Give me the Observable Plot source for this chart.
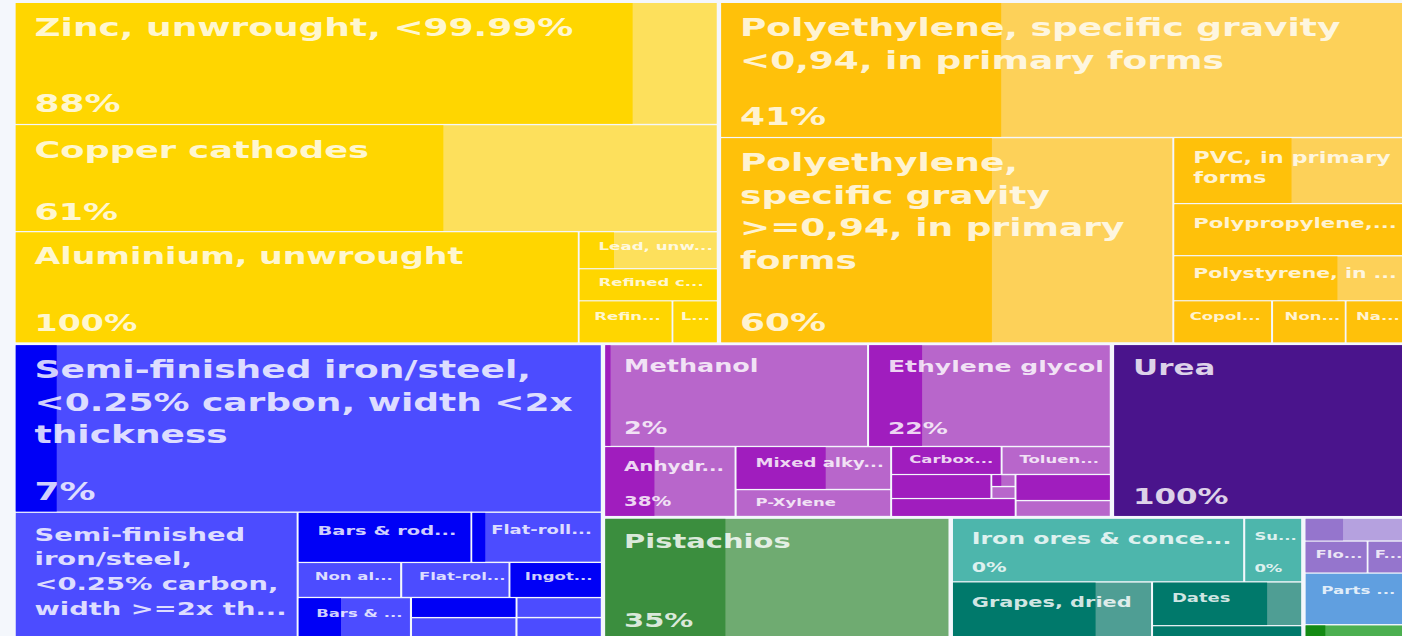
<!DOCTYPE html>
<html>
<head>
<meta charset="utf-8">
<script src="https://cdn.jsdelivr.net/npm/d3@7"></script>
<script src="https://cdn.jsdelivr.net/npm/@observablehq/plot@0.6"></script>
<style>
  html, body { margin: 0; padding: 0; background: #f4f7fc; overflow: hidden; width: 1402px; height: 636px; }
  #chart svg { display: block; transform: scaleX(1.5); transform-origin: 0 0; }
</style>
</head>
<body>
<div id="chart"></div>
<script>
// ---- DATA: [product, export value (est. US$ M), share of world exports (%)] ----
const metals = [
  ["Zinc, unwrought, <99.99%", 851.6, 88],
  ["Copper cathodes", 746.9, 61],
  ["Aluminium, unwrought", 621.6, 100],
  ["Lead, unwrought", 51.1, 25],
  ["Refined copper, unwrought", 44.2, 100],
  ["Refined lead, unwrought", 39.1, 100],
  ["Lead alloys, unwrought", 18.9, 100]
];
const plastics = [
  ["Polyethylene, specific gravity <0,94, in primary forms", 918.0, 41],
  ["Polyethylene, specific gravity >=0,94, in primary forms", 922.5, 60],
  ["PVC, in primary forms", 151.8, 51],
  ["Polypropylene, in primary forms", 119.6, 100],
  ["Polystyrene, in primary forms", 103.5, 71],
  ["Copolymers of propylene", 41.2, 100],
  ["Non-cellular polyethylene plates", 30.7, 100],
  ["Natural polymers", 24.8, 100]
];
const ironSteel = [
  ["Semi-finished iron/steel, <0.25% carbon, width <2x thickness", 977.0, 7],
  ["Semi-finished iron/steel, <0.25% carbon, width >=2x thickness", 355.3, 0],
  ["Bars & rods, iron/steel, hot-rolled", 86.5, 100],
  ["Flat-rolled iron/steel, >=600mm, hot-rolled", 65.0, 10],
  ["Non alloy steel wire", 36.1, 0],
  ["Flat-rolled iron/steel, <600mm", 37.8, 0],
  ["Ingots of iron/steel", 32.2, 100],
  ["Bars & rods, iron/steel, cold-finished", 46.3, 38],
  ["Pig iron", 21.0, 100],
  ["Angles & shapes of iron/steel", 22.1, 0],
  ["Ferro-alloys", 17.0, 0],
  ["Tubes & pipes of iron/steel", 17.9, 0]
];
const chemicals = [
  ["Methanol", 268.3, 2],
  ["Ethylene glycol", 246.8, 22],
  ["Anhydrous ammonia", 91.7, 38],
  ["Mixed alkylbenzenes", 66.7, 58],
  ["P-Xylene", 41.9, 0],
  ["Carboxylic acids", 30.8, 100],
  ["Toluene diisocyanate", 30.5, 0],
  ["Propylene", 24.0, 100],
  ["Benzene", 2.9, 40],
  ["Styrene", 2.9, 0],
  ["Acyclic hydrocarbons", 22.3, 100],
  ["Caustic soda", 24.7, 100],
  ["Sulphuric acid", 15.2, 0]
];
const fertilizers = [["Urea", 502.2, 100]];
const nuts = [["Pistachios", 417.5, 35]];
const minerals = [["Iron ores & concentrates", 186.9, 0], ["Sulphur", 37.1, 0]];
const fruits = [["Grapes, dried", 114.0, 72], ["Dates", 66.0, 77], ["Citrus fruit", 19.5, 100]];
const machinery = [["Liquid pumps", 23.5, 38], ["Floor coverings", 20.5, 100], ["Furnaces", 12.2, 100]];
const parts = [["Parts of engines", 53.0, 0]];
const vegetables = [["Saffron", 14.3, 20]];

// ---- colours per category: [share part, rest of cell] ----
const palette = {
  metals: ["#FFD600", "#FDE05C"],
  plastics: ["#FFC10A", "#FDD159"],
  ironSteel: ["#0000F6", "#4C4CFF"],
  chemicals: ["#A01DBE", "#B866CB"],
  fertilizers: ["#4A148C", "#6C3FA3"],
  nuts: ["#3B8E3E", "#6FAB71"],
  minerals: ["#26A69A", "#4DB6AC"],
  fruits: ["#00796B", "#4F9E94"],
  machinery: ["#9575CD", "#B5A1DF"],
  parts: ["#3F80D2", "#609FE0"],
  vegetables: ["#148A14", "#4CAF50"]
};
const categories = {metals, plastics, ironSteel, chemicals, fertilizers, nuts, minerals, fruits, machinery, parts, vegetables};
const catOf = new Map();
for (const [k, arr] of Object.entries(categories)) for (const r of arr) catOf.set(r, k);

// ---- tiling structure (rows = side by side, cols = stacked) ----
const row = (...kids) => ({dir: "H", gap: 1.4, kids});
const col = (...kids) => ({dir: "V", gap: 1.4, kids});
const Row = (...kids) => ({dir: "H", gap: 3, kids});
const Col = (...kids) => ({dir: "V", gap: 3, kids});
const M = metals, P = plastics, I = ironSteel, C = chemicals, F = fruits, Mn = minerals, Mc = machinery;
const layout = Col(
  Row(
    col(M[0], M[1], row(M[2], col(M[3], M[4], row(M[5], M[6])))),
    col(P[0], row(P[1], col(P[2], P[3], P[4], row(P[5], P[6], P[7]))))
  ),
  Row(
    col(I[0], row(I[1], col(row(I[2], I[3]), row(I[4], I[5], I[6]), row(I[7], col(I[8], I[9]), col(I[10], I[11]))))),
    Col(
      Row(
        col(row(C[0], C[1]),
            row(C[2], col(C[3], C[4]),
                col(row(C[5], C[6]), row(col(row(C[7], col(C[8], C[9])), C[10]), col(C[11], C[12]))))),
        fertilizers[0]
      ),
      Row(
        nuts[0],
        col(row(Mn[0], Mn[1]), row(F[0], col(F[1], F[2]))),
        col(Mc[0], row(Mc[1], Mc[2]), parts[0], vegetables[0])
      )
    )
  )
);
function toNode(s) {
  return Array.isArray(s)
    ? {name: s[0], value: s[1], share: s[2], cat: catOf.get(s)}
    : {dir: s.dir, gap: s.gap, children: s.kids.map(toNode)};
}

// ---- layout ----
const S = 1.5;               // horizontal stretch of the picture
const W = 936, H = 640, X0 = 10.5, Y0 = 3, TH = 635;
const tile = (node, x0, y0, x1, y1) =>
  (node.data.dir === "H" ? d3.treemapDice : d3.treemapSlice)(node, x0, y0, x1, y1);
const root = d3.treemap().tile(tile).size([W - X0, TH]).round(false)
  .paddingInner(n => n.data.gap)(d3.hierarchy(toNode(layout)).sum(d => d.children ? 0 : d.value));
const cells = root.leaves().map(n => ({...n.data, x0: n.x0 + X0, x1: n.x1 + X0, y0: n.y0 + Y0, y1: n.y1 + Y0}));

// ---- labels ----
const FONT = '"DejaVu Sans", Verdana, sans-serif';
const ctx = document.createElement("canvas").getContext("2d");
function tw(t, fs) { ctx.font = `bold ${fs}px ${FONT}`; return ctx.measureText(t).width; }
function ellipsize(t, fs, maxW) {
  if (tw(t, fs) <= maxW) return t;
  for (let k = t.length - 1; k >= 1; k--) {
    const s = t.slice(0, k) + "...";
    if (tw(s, fs) <= maxW) return s;
  }
  return null;
}
function wrap(name, fs, maxW) {
  const words = name.split(" ");
  const lines = [];
  let cur = "", start = 0;
  for (let i = 0; i < words.length; i++) {
    const test = cur ? cur + " " + words[i] : words[i];
    if (tw(test, fs) <= maxW) { cur = test; continue; }
    if (cur && tw(words[i], fs) <= maxW) { lines.push({text: cur, start}); cur = words[i]; start = i; continue; }
    const t = ellipsize(words.slice(start).join(" "), fs, maxW);
    if (t) lines.push({text: t, start});
    return {words, lines, cut: true};
  }
  if (cur) lines.push({text: cur, start});
  return {words, lines, cut: false};
}
const nameLines = [], shareLines = [];
for (const c of cells) {
  const w = c.x1 - c.x0, h = c.y1 - c.y0;
  if (h < 25) continue;
  const padTop = Math.max(3, Math.min(11, h * 0.2));
  const padBot = Math.max(3, Math.min(12, h * 0.15));
  const padX = Math.min(12, w * 0.15);
  const maxW = w - padX * 1.2;
  const L = Math.log(Math.sqrt(w * S * h));
  let fs = 10.5 + 7 * (L - 4.16) + 7 * Math.max(0, L - 5.2);
  fs = Math.max(11, Math.min(24, fs, (h - padTop - 3) / 1.05));
  const lh = fs * 1.35;
  const wr = wrap(c.name, fs, maxW);
  const need = wr.lines.length;
  const shareTxt = Math.round(c.share) + "%";
  const shareOK = h >= 60 && tw(shareTxt, fs) <= maxW;
  const nS = shareOK ? Math.floor(1 + (h - padTop - padBot - fs * 2.4) / lh) : 0;
  let nN = Math.floor(1 + (h - padTop - padBot - fs * 1.1) / lh);
  if (h < 55) nN = Math.min(nN, 1);
  if (w * S / h > 4) nN = Math.min(nN, Math.max(nS, 1));   // wide, low cells keep their share line
  let n, share;
  if (need <= nS) { n = need; share = true; }
  else if (nN > nS) { n = Math.min(need, nN); share = false; }
  else { n = Math.min(need, nS); share = nS >= 1; }
  for (let i = 0; i < n; i++) {
    let t = wr.lines[i].text;
    if (i === n - 1 && n < wr.lines.length) t = ellipsize(wr.words.slice(wr.lines[i].start).join(" "), fs, maxW);
    if (t) nameLines.push({x: c.x0 + padX, y: c.y0 + padTop + fs * 0.9 + i * lh, text: t, fs});
  }
  if (share) shareLines.push({x: c.x0 + padX, y: c.y1 - padBot, text: shareTxt, fs: Math.min(fs, Math.max(11, h * 0.22))});
}

const textOpts = {x: "x", y: "y", text: "text", fontSize: "fs", textAnchor: "start", lineAnchor: "bottom",
  fill: "white", fillOpacity: 0.82, fontFamily: FONT, fontWeight: "bold"};

const chart = Plot.plot({
  width: W, height: H, margin: 0,
  x: {domain: [0, W], range: [0, W], axis: null},
  y: {domain: [0, H], range: [0, H], axis: null},
  color: {type: "identity"},
  style: {background: "#f4f7fc"},
  marks: [
    Plot.rect(cells, {x1: "x0", x2: "x1", y1: "y0", y2: "y1", fill: d => palette[d.cat][1]}),
    Plot.rect(cells.filter(d => d.share > 0), {
      x1: "x0", x2: d => d.x0 + (d.x1 - d.x0) * d.share / 100, y1: "y0", y2: "y1",
      fill: d => palette[d.cat][0]
    }),
    Plot.text(nameLines, textOpts),
    Plot.text(shareLines, textOpts)
  ]
});
document.getElementById("chart").append(chart);
</script>
</body>
</html>
